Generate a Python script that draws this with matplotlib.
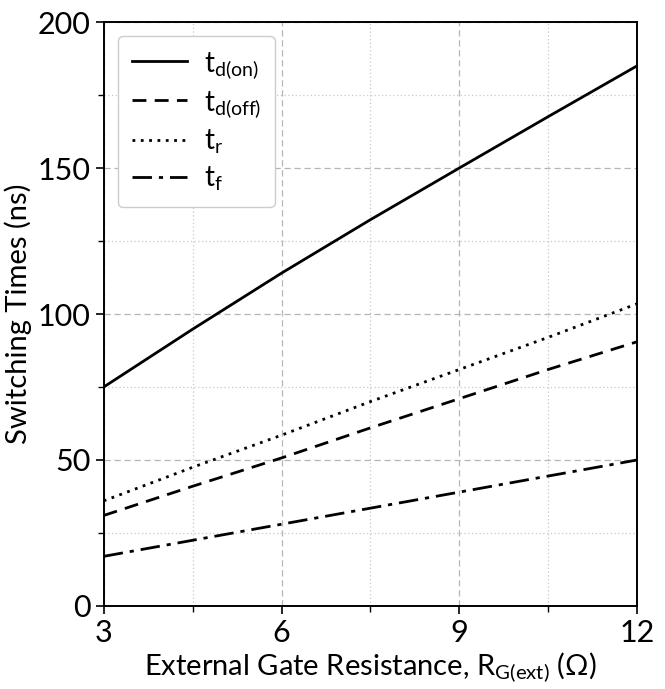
import matplotlib
matplotlib.use('Agg')
import matplotlib.pyplot as plt
from matplotlib.ticker import MultipleLocator

# Datos
rg = [3, 4.5, 6, 7.5, 9, 10.5, 12]
td_on = [75, 94.8, 114, 132.3, 150, 167.6, 185]
td_off = [31, 41, 50.7, 61, 71, 81, 90.5]
t_r = [36, 47.5, 58.5, 70, 81, 92, 103.5]
t_f = [17, 22.5, 28, 33.5, 39, 44.5, 50]

plt.rcParams['font.family'] = ['Lato', 'DejaVu Sans']
plt.rcParams['mathtext.fontset'] = 'custom'
plt.rcParams['mathtext.rm'] = 'Lato'
plt.rcParams['mathtext.it'] = 'Lato'

fig = plt.figure(figsize=(6.65, 6.89), dpi=100)
ax = fig.add_axes([0.156, 0.1205, 0.802, 0.8475])

lw = 2.0
ax.plot(rg, td_on, color='black', lw=lw, linestyle='-', label=r'$\mathrm{t_{d(on)}}$')
ax.plot(rg, td_off, color='black', lw=lw, linestyle=(0, (5, 3)), label=r'$\mathrm{t_{d(off)}}$')
ax.plot(rg, t_r, color='black', lw=lw, linestyle=(0, (1, 2)), label=r'$\mathrm{t_r}$')
ax.plot(rg, t_f, color='black', lw=lw, linestyle=(0, (7, 2.5, 1.5, 2.5)), label=r'$\mathrm{t_f}$')

ax.set_xlim(3, 12)
ax.set_ylim(0, 200)
ax.xaxis.set_major_locator(MultipleLocator(3))
ax.xaxis.set_minor_locator(MultipleLocator(1.5))
ax.yaxis.set_major_locator(MultipleLocator(50))
ax.yaxis.set_minor_locator(MultipleLocator(25))

ax.grid(which='major', color='#b5b5b5', linestyle=(0, (5, 3)), linewidth=0.9)
ax.grid(which='minor', color='#c8c8c8', linestyle=(0, (1, 2)), linewidth=0.9)
ax.set_axisbelow(True)

ax.tick_params(which='major', labelsize=22, length=6, width=1.2, direction='out')
ax.tick_params(which='minor', length=4, width=1.0, direction='out')
for s in ax.spines.values():
    s.set_linewidth(1.4)

ax.set_xlabel(r'External Gate Resistance, R$_{\mathrm{G(ext)}}$ ($\Omega$)', fontsize=21,
              labelpad=2)
ax.set_ylabel('Switching Times (ns)', fontsize=21, labelpad=4)

leg = ax.legend(loc='upper left', fontsize=20, handlelength=2.0, labelspacing=0.3,
                borderpad=0.5, handletextpad=0.6, fancybox=True, framealpha=1,
                edgecolor='#cccccc')

plt.savefig('out.png', dpi=100)
plt.close()
